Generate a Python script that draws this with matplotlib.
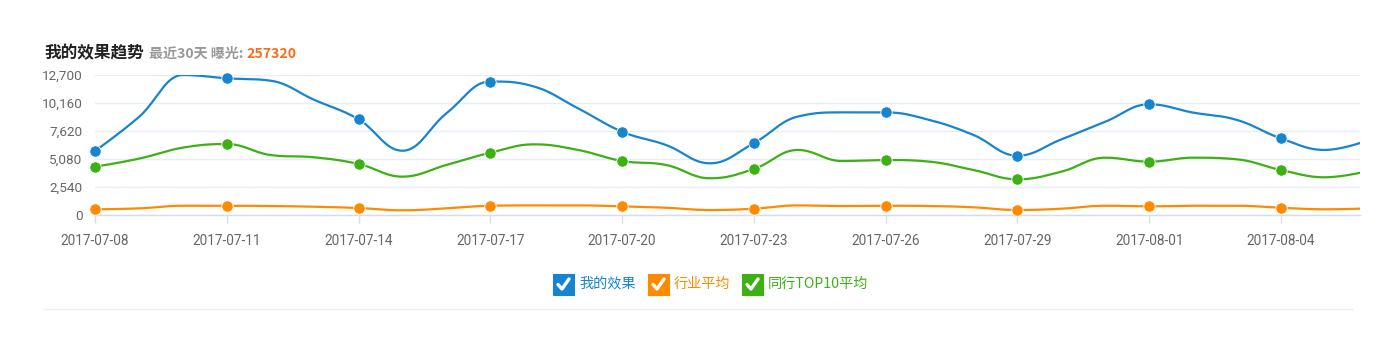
import numpy as np
import matplotlib
matplotlib.use("Agg")
import matplotlib.pyplot as plt
from matplotlib.patches import Rectangle
from matplotlib.lines import Line2D
import datetime as dt

plt.rcParams['font.family'] = ['Noto Sans CJK SC', 'DejaVu Sans']

start = dt.date(2017, 7, 8)
dates = [start + dt.timedelta(days=i) for i in range(30)]
date_labels = [d.strftime("%Y-%m-%d") for d in dates]

my_effect = [5805, 8890, 12700, 12400, 12180, 10430, 8680, 5830, 9220, 12110,
             11650, 9670, 7560, 6350, 4690, 6520, 8930, 9310, 9310, 8620,
             7260, 5380, 6860, 8460, 10040, 9290, 8620, 6950, 5900, 6800]
industry_avg = [515, 600, 840, 840, 815, 750, 635, 425, 600, 840,
                870, 870, 785, 660, 450, 570, 870, 815, 840, 815,
                700, 450, 570, 840, 785, 840, 840, 660, 515, 600]
top10_avg = [4380, 5110, 6110, 6440, 5440, 5230, 4630, 3480, 4540, 5650,
             6410, 5900, 4900, 4540, 3330, 4170, 5900, 4900, 4990, 4840,
             4080, 3240, 3930, 5200, 4840, 5200, 5050, 4080, 3420, 4000]

series_names = ["我的效果", "行业平均", "同行TOP10平均"]
colors = ["#1784cf", "#ff8a00", "#3db014"]
y_ticks = [0, 2540, 5080, 7620, 10160, 12700]
title_main = "我的效果趋势"
title_sub = "最近30天 曝光: "
total_exposure = "257320"


def hc_spline(x, y, smoothing=1.5, n=20):
    x = np.asarray(x, float); y = np.asarray(y, float)
    m = len(x)
    lc = np.zeros((m, 2)); rc = np.zeros((m, 2))
    denom = smoothing + 1
    for i in range(m):
        px, py = x[i], y[i]
        if 0 < i < m - 1:
            lx, ly = x[i - 1], y[i - 1]
            nx, ny = x[i + 1], y[i + 1]
            lcx = (smoothing * px + lx) / denom
            lcy = (smoothing * py + ly) / denom
            rcx = (smoothing * px + nx) / denom
            rcy = (smoothing * py + ny) / denom
            corr = (rcy - lcy) * (rcx - px) / (rcx - lcx) + py - rcy
            lcy += corr; rcy += corr
            if lcy > ly and lcy > py:
                lcy = max(ly, py); rcy = 2 * py - lcy
            elif lcy < ly and lcy < py:
                lcy = min(ly, py); rcy = 2 * py - lcy
            if rcy > ny and rcy > py:
                rcy = max(ny, py); lcy = 2 * py - rcy
            elif rcy < ny and rcy < py:
                rcy = min(ny, py); lcy = 2 * py - rcy
            lc[i] = (lcx, lcy); rc[i] = (rcx, rcy)
        else:
            lc[i] = (px, py); rc[i] = (px, py)
    xs, ys = [x[0]], [y[0]]
    t = np.linspace(0, 1, n)[1:]
    for i in range(1, m):
        p0 = np.array([x[i - 1], y[i - 1]]); p1 = rc[i - 1]; p2 = lc[i]; p3 = np.array([x[i], y[i]])
        b = ((1 - t) ** 3)[:, None] * p0 + (3 * (1 - t) ** 2 * t)[:, None] * p1 + \
            (3 * (1 - t) * t ** 2)[:, None] * p2 + (t ** 3)[:, None] * p3
        xs.extend(b[:, 0]); ys.extend(b[:, 1])
    return np.array(xs), np.array(ys)


W, H = 1398, 351
fig = plt.figure(figsize=(W / 100, H / 100), dpi=100)
fig.patch.set_facecolor("white")

def fx(px): return px / W
def fy(py): return 1 - py / H

ax = fig.add_axes([fx(95), fy(215), fx(1360) - fx(95), fy(75) - fy(215)])
xi = np.arange(len(dates))
for vals, c in zip([my_effect, industry_avg, top10_avg], colors):
    sx, sy = hc_spline(xi, vals)
    ax.plot(sx, sy, color=c, lw=1.6, solid_capstyle='round', zorder=3)
    mk = xi[::3]
    ax.plot(mk, np.asarray(vals)[::3], 'o', color=c, ms=8.2, mec='white', mew=0.6,
            zorder=4, clip_on=False)

ax.set_xlim(0, 28.8)
ax.set_ylim(0, 12700)
ax.set_yticks(y_ticks)
ax.set_yticklabels([f"{v:,}" for v in y_ticks])
ax.set_xticks(xi[::3])
ax.set_xticklabels(date_labels[::3])
for s in ['top', 'right', 'left']:
    ax.spines[s].set_visible(False)
ax.spines['bottom'].set_color('#d6dde8')
ax.spines['bottom'].set_linewidth(1.0)
ax.grid(axis='y', color='#e6edf7', lw=1.0)
ax.set_axisbelow(True)
ax.tick_params(axis='y', length=0, pad=9, labelsize=9.7, labelcolor='#666666')
ax.tick_params(axis='x', length=6, width=1, color='#d6dde8', pad=8, labelsize=9.8,
               labelcolor='#666666', direction='out')
for lab in ax.get_xticklabels() + ax.get_yticklabels():
    lab.set_family(['Roboto', 'DejaVu Sans'])

# Title
t1 = fig.text(fx(44), fy(58), title_main, fontsize=12, fontweight='bold', color='#222222',
              va='baseline', ha='left')
fig.canvas.draw()
r = fig.canvas.get_renderer()
bb = t1.get_window_extent(r)
t2 = fig.text(bb.x1 / W + fx(5), fy(58), title_sub, fontsize=10.1, fontweight='bold',
              color='#999999', va='baseline', ha='left')
bb2 = t2.get_window_extent(r)
fig.text(bb2.x1 / W, fy(58), total_exposure, fontsize=10.1, fontweight='bold',
         color='#ff6a1a', va='baseline', ha='left')

# Legend with checkboxes
box_x = [553, 648, 742]
size = 21
cy = 284
for bx, name, c in zip(box_x, series_names, colors):
    fig.patches.append(Rectangle((fx(bx), fy(cy + size / 2)), size / W, size / H,
                                 transform=fig.transFigure, facecolor=c, edgecolor=c,
                                 lw=0.8, alpha=1.0))
    fig.lines.append(Line2D([fx(bx + 5), fx(bx + 9), fx(bx + 16)],
                            [fy(cy + 0.5), fy(cy + 5), fy(cy - 5)],
                            transform=fig.transFigure, color='white', lw=2.4,
                            solid_capstyle='round', solid_joinstyle='round'))
    fig.text(fx(bx + size + 5), fy(cy), name, fontsize=10.2, color=c, va='center', ha='left',
             family=['Noto Sans CJK SC', 'DejaVu Sans'])

# bottom separator
fig.lines.append(Line2D([fx(44), fx(1352)], [fy(309), fy(309)], transform=fig.transFigure,
                        color='#eeeeee', lw=1.0))

fig.savefig("out.png", dpi=100, facecolor='white')
